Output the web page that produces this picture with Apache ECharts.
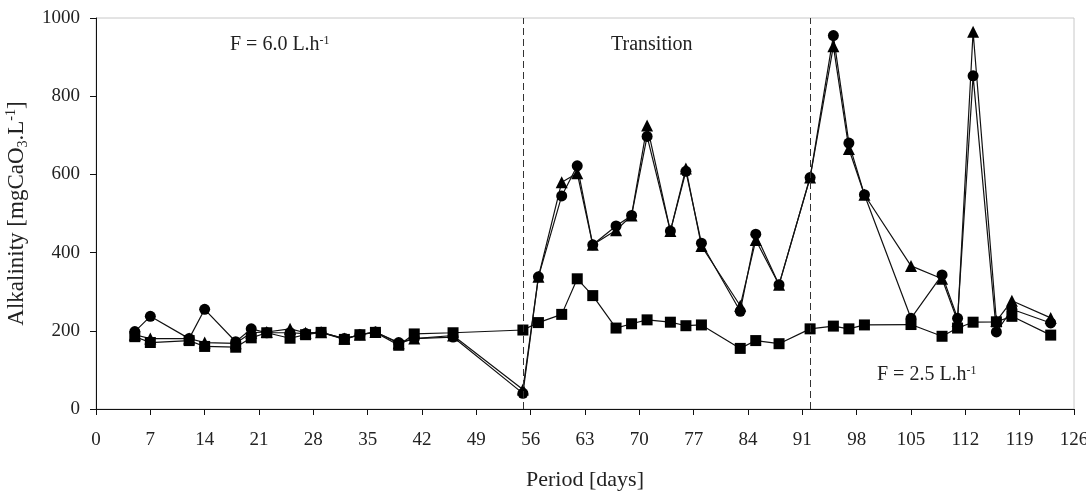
<!DOCTYPE html>
<html>
<head>
<meta charset="utf-8">
<script src="https://cdn.jsdelivr.net/npm/echarts@6/dist/echarts.min.js"></script>
<style>
  html, body { margin: 0; padding: 0; background: #fff; }
  #chart { width: 1086px; height: 495px; }
</style>
</head>
<body>
<div id="chart"></div>
<script>
// sampling days
const days = [5, 7, 12, 14, 18, 20, 22, 25, 27, 29, 32, 34, 36, 39, 41, 46, 55, 57, 60, 62, 64,
  67, 69, 71, 74, 76, 78, 83, 85, 88, 92, 95, 97, 99, 105, 109, 111, 113, 116, 118, 123];

// alkalinity, three series (circle / triangle / square markers)
const circleVals = [198, 237, 180, 255, 172, 205, 195, 195, 193, 196, 180, 190, 197, 170, 180, 184, 40, 338, 545, 622, 420,
  468, 495, 697, 455, 608, 424, 250, 447, 318, 592, 955, 680, 548, 232, 343, 232, 852, 197, 255, 220];
const triangleVals = [190, 180, 180, 170, 168, 195, 197, 205, 195, 196, 180, 190, 197, 168, 180, 188, 50, 338, 580, 603, 420,
  457, 495, 725, 455, 615, 417, 264, 432, 318, 592, 928, 665, 548, 366, 333, 225, 965, 225, 277, 233];
const squareVals = [185, 170, 175, 160, 158, 182, 195, 181, 190, 196, 178, 190, 196, 163, 192, 195, 202, 221, 242, 333, 290,
  207, 218, 228, 222, 213, 215, 155, 175, 167, 205, 212, 205, 215, 216, 186, 207, 222, 223, 237, 189];

// phase boundaries (days)
const phaseLines = [55, 92];

const font = 'Liberation Serif';

function pairs(vals) {
  return days.map((d, i) => [d, vals[i]]);
}

function makeSeries(name, vals, symbol, size) {
  return {
    name: name,
    type: 'line',
    data: pairs(vals),
    symbol: symbol,
    symbolSize: size,
    itemStyle: { color: '#000' },
    lineStyle: { color: '#111', width: 1.2 },
    animation: false
  };
}

const chart = echarts.init(document.getElementById('chart'));

const series = [
  makeSeries('circle', circleVals, 'circle', 11),
  makeSeries('triangle', triangleVals, 'triangle', 12),
  makeSeries('square', squareVals, 'rect', 11)
];

series[2].markLine = {
  silent: true,
  symbol: 'none',
  label: { show: false },
  lineStyle: { color: '#333', type: [7, 4], width: 1 },
  data: phaseLines.map(d => ({ xAxis: d }))
};

const annText = { fontFamily: font, fontSize: 20, fill: '#222' };
const annSup = { fontFamily: font, fontSize: 12, fill: '#222', verticalAlign: 'top' };

chart.setOption({
  backgroundColor: '#fff',
  animation: false,
  grid: {
    left: 96, right: 12, top: 18, bottom: 86,
    outerBoundsMode: 'none',
    containLabel: false,
    show: true, borderColor: '#c8c8c8', borderWidth: 1
  },
  xAxis: {
    type: 'value',
    min: 0, max: 126, interval: 7,
    name: 'Period [days]',
    nameLocation: 'middle',
    nameGap: 60,
    nameTextStyle: { fontFamily: font, fontSize: 22, color: '#222' },
    axisLine: { lineStyle: { color: '#111', width: 1 } },
    axisTick: { show: true, length: 6, lineStyle: { color: '#111' } },
    axisLabel: { fontFamily: font, fontSize: 19, color: '#222', margin: 22 },
    splitLine: { show: false }
  },
  yAxis: {
    type: 'value',
    min: 0, max: 1000, interval: 200,
    name: '{a|Alkalinity [mgCaO}{sub|3}{a|.L}{sup|-1}{a|]}',
    nameLocation: 'middle',
    nameGap: 66,
    nameTextStyle: {
      rich: {
        a: { fontFamily: font, fontSize: 23, color: '#222', lineHeight: 26 },
        sub: { fontFamily: font, fontSize: 14, color: '#222', verticalAlign: 'bottom', lineHeight: 26 },
        sup: { fontFamily: font, fontSize: 14, color: '#222', verticalAlign: 'top', lineHeight: 26 }
      }
    },
    axisLine: { show: true, lineStyle: { color: '#111', width: 1 } },
    axisTick: { show: true, length: 6, lineStyle: { color: '#111' } },
    axisLabel: {
      fontFamily: font, fontSize: 19, color: '#222', margin: 16,
      formatter: v => String(v)
    },
    splitLine: { show: false }
  },
  graphic: [
    {
      type: 'text', left: 230, top: 35,
      style: { text: '{a|F = 6.0 L.h}{sup|-1}', rich: { a: annText, sup: annSup } }
    },
    {
      type: 'text', left: 611, top: 35,
      style: { text: 'Transition', fontFamily: font, fontSize: 20, fill: '#222' }
    },
    {
      type: 'text', left: 877, top: 365,
      style: { text: '{a|F = 2.5 L.h}{sup|-1}', rich: { a: annText, sup: annSup } }
    }
  ],
  series: series
});

window.addEventListener('resize', () => chart.resize());
</script>
</body>
</html>
